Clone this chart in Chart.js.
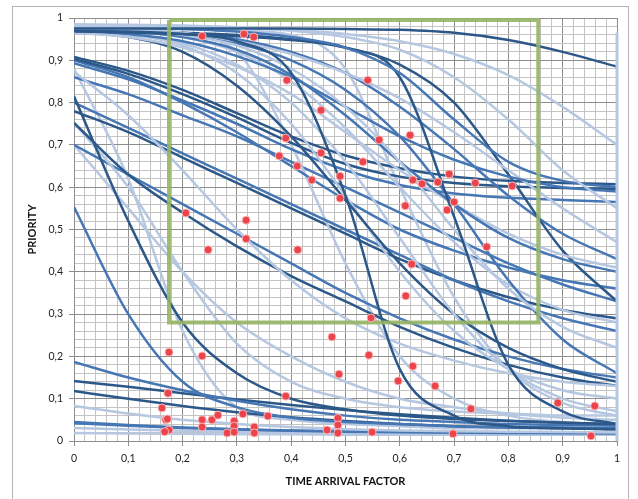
<!DOCTYPE html>
<html>
<head>
<meta charset="utf-8">
<script src="https://cdn.jsdelivr.net/npm/chart.js@4.4.1/dist/chart.umd.min.js"></script>
<style>
  body{ margin:0; background:#fff; }
  #wrap{ position:relative; width:638px; height:499px; }
  #frame{ position:absolute; left:12px; top:6px; width:617px; height:500px; border:1px solid #b4b4b4; box-sizing:border-box; }
  canvas{ position:absolute; left:0; top:0; }
</style>
</head>
<body>
<div id="wrap">
  <div id="frame"></div>
  <canvas id="c" width="638" height="499"></canvas>
</div>
<script>
// ====== data ======
const xs = [0, 0.1, 0.2, 0.3, 0.4, 0.5, 0.6, 0.7, 0.8, 0.9, 1];

// priority curves, one y value per xs entry
const curves = [
  [0.975,0.975,0.975,0.975,0.975,0.974,0.972,0.965,0.948,0.92,0.885],
  [0.98,0.98,0.979,0.977,0.972,0.962,0.945,0.915,0.865,0.79,0.70],
  [0.985,0.984,0.982,0.978,0.97,0.955,0.925,0.86,0.76,0.64,0.55],
  [0.978,0.977,0.974,0.968,0.955,0.93,0.87,0.76,0.66,0.615,0.60],
  [0.968,0.966,0.962,0.957,0.948,0.93,0.86,0.53,0.18,0.07,0.04],
  [0.97,0.968,0.962,0.945,0.87,0.58,0.17,0.06,0.035,0.03,0.028],
  [0.975,0.972,0.96,0.935,0.88,0.79,0.66,0.50,0.36,0.27,0.22],
  [0.972,0.968,0.955,0.925,0.865,0.77,0.66,0.56,0.48,0.43,0.40],
  [0.965,0.955,0.93,0.885,0.82,0.73,0.64,0.56,0.49,0.44,0.41],
  [0.97,0.962,0.945,0.91,0.86,0.79,0.72,0.665,0.625,0.60,0.59],
  [0.98,0.975,0.965,0.945,0.915,0.87,0.81,0.73,0.64,0.55,0.47],
  [0.97,0.96,0.94,0.89,0.80,0.66,0.48,0.30,0.17,0.10,0.07],
  [0.975,0.97,0.96,0.94,0.90,0.83,0.72,0.56,0.38,0.24,0.16],
  [0.97,0.968,0.965,0.96,0.95,0.93,0.89,0.80,0.63,0.45,0.33],
  [0.967,0.955,0.92,0.84,0.72,0.57,0.42,0.30,0.22,0.17,0.14],
  [0.97,0.962,0.935,0.87,0.75,0.58,0.40,0.26,0.17,0.12,0.10],
  [0.975,0.97,0.955,0.92,0.85,0.74,0.60,0.47,0.37,0.31,0.28],
  [0.975,0.972,0.965,0.95,0.92,0.87,0.79,0.69,0.58,0.49,0.43],
  [0.908,0.875,0.83,0.775,0.72,0.675,0.645,0.625,0.615,0.61,0.607],
  [0.903,0.868,0.82,0.765,0.705,0.655,0.625,0.61,0.602,0.598,0.596],
  [0.893,0.855,0.805,0.75,0.69,0.64,0.605,0.585,0.575,0.57,0.565],
  [0.90,0.86,0.80,0.73,0.65,0.57,0.50,0.45,0.41,0.38,0.36],
  [0.873,0.77,0.64,0.50,0.38,0.29,0.23,0.19,0.16,0.14,0.13],
  [0.815,0.52,0.28,0.16,0.10,0.075,0.06,0.052,0.047,0.043,0.04],
  [0.752,0.63,0.54,0.46,0.39,0.33,0.27,0.22,0.18,0.15,0.13],
  [0.752,0.60,0.40,0.23,0.14,0.10,0.08,0.07,0.065,0.06,0.06],
  [0.70,0.63,0.56,0.49,0.42,0.35,0.29,0.24,0.20,0.17,0.15],
  [0.553,0.30,0.14,0.08,0.055,0.045,0.04,0.035,0.033,0.032,0.03],
  [0.80,0.74,0.68,0.62,0.56,0.50,0.44,0.38,0.33,0.29,0.26],
  [0.187,0.15,0.12,0.095,0.075,0.06,0.05,0.045,0.04,0.038,0.036],
  [0.142,0.128,0.113,0.098,0.085,0.073,0.063,0.055,0.048,0.043,0.04],
  [0.118,0.10,0.083,0.068,0.056,0.047,0.04,0.035,0.032,0.03,0.028],
  [0.083,0.065,0.05,0.04,0.033,0.028,0.025,0.023,0.022,0.021,0.02],
  [0.045,0.038,0.032,0.028,0.025,0.023,0.021,0.02,0.02,0.019,0.019],
  [0.042,0.036,0.031,0.027,0.024,0.022,0.021,0.02,0.019,0.019,0.018],
  [0.031,0.027,0.024,0.022,0.02,0.019,0.018,0.018,0.017,0.017,0.017],
  [0.019,0.018,0.017,0.016,0.016,0.015,0.015,0.015,0.015,0.015,0.015],
  [0.975,0.97,0.96,0.92,0.70,0.42,0.20,0.10,0.06,0.045,0.04],
  [0.98,0.978,0.975,0.97,0.96,0.88,0.60,0.34,0.17,0.09,0.06],
  [0.86,0.82,0.77,0.72,0.66,0.60,0.54,0.48,0.42,0.37,0.33],
  [0.78,0.73,0.67,0.61,0.55,0.49,0.43,0.38,0.34,0.31,0.29],
  [0.88,0.62,0.26,0.08,0.05,0.04,0.035,0.03,0.03,0.03,0.03],
  [0.70,0.55,0.40,0.28,0.20,0.14,0.10,0.08,0.065,0.055,0.05]
];
// D = dark blue, M = mid blue, L = light blue
const shades = 'DLLMDDLMLMLLMDDLLMDDMMLDDLMMMMDDLMMLLLLMDLL';

// light series running down the right edge
const edgeX = [1, 1];
const edgeY = [0.965, 0];

// tasks (red dots)
const ptX = [0.236,0.313,0.331,0.392,0.541,0.455,0.390,0.562,0.619,0.378,0.455,0.411,0.532,0.438,0.490,
  0.624,0.641,0.670,0.691,0.739,0.807,0.490,0.610,0.687,0.700,0.760,0.206,0.317,0.317,0.247,0.412,
  0.622,0.611,0.547,0.475,0.175,0.236,0.543,0.624,0.597,0.488,0.665,0.173,0.390,0.731,0.891,0.959,
  0.162,0.169,0.175,0.167,0.236,0.236,0.254,0.265,0.282,0.295,0.295,0.295,0.311,0.332,0.332,0.357,
  0.466,0.486,0.486,0.486,0.549,0.698,0.952,0.172];
const ptY = [0.957,0.962,0.955,0.853,0.853,0.782,0.716,0.712,0.723,0.674,0.681,0.650,0.660,0.617,0.626,
  0.617,0.608,0.612,0.631,0.610,0.603,0.574,0.556,0.546,0.565,0.459,0.539,0.522,0.478,0.452,0.452,
  0.418,0.343,0.291,0.246,0.210,0.201,0.203,0.177,0.142,0.158,0.130,0.113,0.106,0.076,0.090,0.083,
  0.078,0.050,0.026,0.022,0.050,0.033,0.050,0.061,0.019,0.047,0.035,0.021,0.064,0.033,0.019,0.059,
  0.026,0.054,0.038,0.019,0.021,0.017,0.012,0.052];

// selection window
const boxX = [0.175, 0.855, 0.855, 0.175, 0.175];
const boxY = [0.995, 0.995, 0.280, 0.280, 0.995];

// ====== chart ======
const shadeColor = { D:'#2c5889', M:'#4677b4', L:'#b6c7e1' };
const toPts = (xa, ya) => xa.map((x,i)=>({x, y:ya[i]}));

const datasets = [];
datasets.push({
  data: toPts(ptX, ptY), showLine:false, order:0,
  pointRadius:4, pointBackgroundColor:'#ea454c', pointBorderColor:'rgba(255,190,190,0.9)', pointBorderWidth:1
});
datasets.push({
  data: toPts(boxX, boxY), order:1, showLine:true, borderColor:'rgba(150,180,100,0.9)', borderWidth:4,
  pointRadius:0, tension:0
});
datasets.push({
  data: toPts(edgeX, edgeY), order:2, showLine:true, borderColor:'#b6c7e1', borderWidth:3, pointRadius:0, clip:4
});
curves.forEach((ys, i) => {
  datasets.push({
    data: toPts(xs, ys), order:3 + i, showLine:true,
    borderColor: shadeColor[shades[i]] || shadeColor.M,
    borderWidth:2.5, pointRadius:0, cubicInterpolationMode:'monotone'
  });
});

function tickLabel(v){
  const k = Math.round(v*50);
  if(k % 5) return '';
  if(k === 0) return '0';
  if(k === 50) return '1';
  return (k/50).toFixed(1).replace('.', ',');
}
const isMajor = v => Math.round(v*50) % 5 === 0;

const font = { family:'Lato, "Liberation Sans", sans-serif', size:10.5 };

new Chart(document.getElementById('c'), {
  type:'scatter',
  data:{ datasets },
  options:{
    responsive:false, animation:false,
    layout:{ padding:{ left:22, top:18, right:21, bottom:7 } },
    plugins:{ legend:{display:false}, tooltip:{enabled:false} },
    scales:{
      x:{
        type:'linear', min:0, max:1,
        afterFit: s => { s.height = 51; },
        ticks:{ stepSize:0.02, autoSkip:false, maxRotation:0, padding:6, color:'#222', font, callback:tickLabel },
        grid:{
          color: c => isMajor(c.tick.value) ? '#8e8e8e' : '#c4c4c4',
          tickColor: c => isMajor(c.tick.value) ? '#8e8e8e' : 'rgba(0,0,0,0)',
          tickLength:5
        },
        border:{ color:'#8e8e8e' },
        title:{ display:true, text:'TIME ARRIVAL FACTOR', color:'#111',
          font:{ family:font.family, size:11, weight:'bold' } }
      },
      y:{
        type:'linear', min:0, max:1,
        afterFit: s => { s.width = 52; },
        ticks:{ stepSize:0.02, autoSkip:false, padding:6, color:'#222', font, callback:tickLabel },
        grid:{
          color: c => isMajor(c.tick.value) ? '#8e8e8e' : '#c4c4c4',
          tickColor: c => isMajor(c.tick.value) ? '#8e8e8e' : 'rgba(0,0,0,0)',
          tickLength:5
        },
        border:{ color:'#8e8e8e' },
        title:{ display:true, text:'PRIORITY', color:'#111',
          font:{ family:font.family, size:11, weight:'bold' } }
      }
    }
  }
});
</script>
</body>
</html>
